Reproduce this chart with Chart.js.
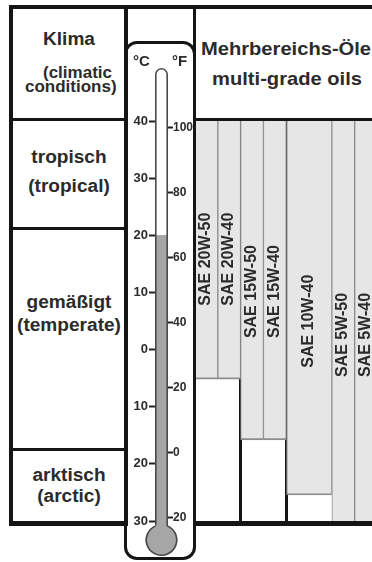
<!DOCTYPE html>
<html><head><meta charset="utf-8">
<script src="https://cdn.jsdelivr.net/npm/chart.js@4.4.1/dist/chart.umd.min.js"></script>
<style>
html,body{margin:0;padding:0;background:#fff;}
#page{position:relative;width:372px;height:562px;overflow:hidden;font-family:"Liberation Sans",Arial,sans-serif;font-weight:bold;color:#2b2b2b;}
.ln{position:absolute;background:#151515;z-index:3;}
.t{position:absolute;white-space:nowrap;z-index:4;}
.c{transform:translateX(-50%) scaleX(1.06);}
.f19{font-size:19px;line-height:19px;}
.f18{font-size:18px;line-height:18px;}
.f17{font-size:17px;line-height:17px;}
.f15{font-size:15px;line-height:15px;}
canvas{position:absolute;z-index:1;}
#frame{position:absolute;left:124px;top:41px;width:72px;height:519px;box-sizing:border-box;border:3px solid #151515;border-radius:13px;z-index:2;}
</style>
</head><body>
<div id="page">
  <canvas id="oils" width="177" height="400" style="left:195px;top:121px;width:177px;height:400px"></canvas>
  <canvas id="thermo" width="65" height="519" style="left:128px;top:42px;width:65px;height:519px"></canvas>
  <div id="frame"></div>

  <div class="ln" style="left:9px;top:5px;width:363px;height:4px"></div>
  <div class="ln" style="left:9px;top:5px;width:4px;height:521px"></div>
  <div class="ln" style="left:124px;top:5px;width:4px;height:521px"></div>
  <div class="ln" style="left:193px;top:5px;width:3px;height:521px"></div>
  <div class="ln" style="left:9px;top:521px;width:119px;height:5px"></div>
  <div class="ln" style="left:193px;top:521px;width:179px;height:5px"></div>
  <div class="ln" style="left:9px;top:118px;width:115px;height:3px"></div>
  <div class="ln" style="left:196px;top:118px;width:176px;height:3px"></div>
  <div class="ln" style="left:9px;top:227px;width:115px;height:3px"></div>
  <div class="ln" style="left:9px;top:448px;width:115px;height:3px"></div>

  <div class="t f18 c" style="left:69px;top:30px">Klima</div>
  <div class="t f17" style="left:43px;top:64px">(climatic</div>
  <div class="t f17" style="left:25px;top:78px">conditions)</div>
  <div class="t f19 c" style="left:286px;top:39px">Mehrbereichs-Öle</div>
  <div class="t f19 c" style="left:287px;top:69px">multi-grade oils</div>
  <div class="t f18 c" style="left:69px;top:148px">tropisch</div>
  <div class="t f18 c" style="left:69px;top:177px">(tropical)</div>
  <div class="t f18 c" style="left:69px;top:293px">gemäßigt</div>
  <div class="t f18 c" style="left:69px;top:316px">(temperate)</div>
  <div class="t f18 c" style="left:69px;top:466px">arktisch</div>
  <div class="t f18 c" style="left:69px;top:487px">(arctic)</div>
  <div class="t f15" style="left:133px;top:53px">°C</div>
  <div class="t f15" style="left:172px;top:53px">°F</div>
</div>
<script>
// ---- data ----
const oilGrades = ['SAE 20W-50','SAE 20W-40','SAE 15W-50','SAE 15W-40','SAE 10W-40','SAE 5W-50','SAE 5W-40'];
const lowTempC  = [-5.2, -5.2, -15.8, -15.8, -25.5, -30, -30];
const highTempC = [40, 40, 40, 40, 40, 40, 40];
const celsiusTicks = [40, 30, 20, 10, 0, -10, -20, -30];
const fahrenheitTicks = [100, 80, 60, 40, 20, 0, -20];
const mercuryTempC = 20;

// ---- layout / style ----
const colSpan = [1, 1, 1, 1, 2, 1, 1];
const groupEdges = [2, 4, 7];
const FONT = '"Liberation Sans", Arial, sans-serif';
const TEXT = '#2b2b2b';
const AXIS_MIN_C = -30, AXIS_MAX_C = 40;

let acc = 0;
const centers = colSpan.map(s => { const c = acc + s / 2; acc += s; return c; });

const gradeLabels = {
  id: 'gradeLabels',
  afterDatasetsDraw(chart) {
    const ctx = chart.ctx, y = chart.scales.y;
    ctx.save();
    ctx.font = 'bold 16px ' + FONT;
    ctx.fillStyle = TEXT;
    ctx.textAlign = 'center';
    ctx.textBaseline = 'middle';
    chart.data.datasets.forEach((ds, i) => {
      const el = chart.getDatasetMeta(i).data[0];
      const top = y.getPixelForValue(highTempC[i]);
      const bottom = y.getPixelForValue(lowTempC[i]);
      const cy = top + 0.535 * (bottom - top);
      ctx.save();
      ctx.translate(el.x - 0.5, cy);
      ctx.rotate(-Math.PI / 2);
      ctx.fillText(ds.label, 0, 0);
      ctx.restore();
    });
    ctx.restore();
  }
};

new Chart(document.getElementById('oils'), {
  type: 'bar',
  data: {
    datasets: oilGrades.map((g, i) => ({
      label: g,
      data: [{ x: centers[i], y: [lowTempC[i], highTempC[i]] }],
      backgroundColor: '#e6e6e6',
      borderColor: '#8c8c8c',
      borderWidth: { left: 1, right: 1, bottom: lowTempC[i] > AXIS_MIN_C ? 2 : 0, top: 0 },
      borderSkipped: false,
      grouped: false,
      barPercentage: colSpan[i],
      categoryPercentage: 1
    }))
  },
  options: {
    responsive: false,
    animation: false,
    layout: { padding: 0 },
    plugins: { legend: { display: false }, tooltip: { enabled: false } },
    scales: {
      x: {
        type: 'linear', min: 0, max: 7.76, offset: false,
        ticks: { display: false, stepSize: 1, includeBounds: false },
        grid: {
          offset: false, drawTicks: false, lineWidth: 3,
          color: c => (c.tick && groupEdges.includes(c.tick.value)) ? '#151515' : 'rgba(0,0,0,0)'
        },
        border: { display: false },
        z: 1
      },
      y: { min: AXIS_MIN_C, max: AXIS_MAX_C, display: false }
    }
  },
  plugins: [gradeLabels]
});

const thermoShape = {
  id: 'thermoShape',
  beforeDatasetsDraw(chart) {
    const ctx = chart.ctx, a = chart.chartArea;
    const cx = (a.left + a.right) / 2, w = (a.right - a.left) / 2;
    const topY = a.top - 53;
    ctx.save();
    ctx.fillStyle = '#ffffff';
    ctx.beginPath();
    ctx.moveTo(cx - w, a.bottom + 10);
    ctx.lineTo(cx - w, topY + w);
    ctx.arc(cx, topY + w, w, Math.PI, 0);
    ctx.lineTo(cx + w, a.bottom + 10);
    ctx.closePath();
    ctx.fill();
    ctx.restore();
  },
  afterDatasetsDraw(chart) {
    const ctx = chart.ctx, a = chart.chartArea;
    const cx = (a.left + a.right) / 2, w = (a.right - a.left) / 2;
    const topY = a.top - 53;
    const r = 16, cy = a.bottom + 19;
    const h = Math.sqrt(r * r - w * w);
    ctx.save();
    ctx.fillStyle = '#a6a6a6';
    ctx.fillRect(cx - w, a.bottom - 1, 2 * w, cy - a.bottom + 1);
    ctx.beginPath();
    ctx.arc(cx, cy, r, 0, Math.PI * 2);
    ctx.fill();
    ctx.strokeStyle = '#4a4a4a';
    ctx.lineWidth = 1.6;
    ctx.beginPath();
    ctx.moveTo(cx - w + 0.8, cy - h);
    ctx.lineTo(cx - w + 0.8, topY + w);
    ctx.arc(cx, topY + w, w - 0.8, Math.PI, 0);
    ctx.lineTo(cx + w - 0.8, cy - h);
    ctx.arc(cx, cy, r - 0.8, Math.atan2(-h, w), Math.atan2(-h, -w), false);
    ctx.stroke();
    ctx.restore();
  }
};

new Chart(document.getElementById('thermo'), {
  type: 'bar',
  data: {
    labels: ['°C'],
    datasets: [{ data: [[AXIS_MIN_C, mercuryTempC]], backgroundColor: '#a6a6a6', borderWidth: 0, barPercentage: 1, categoryPercentage: 1 }]
  },
  options: {
    responsive: false,
    animation: false,
    layout: { padding: { top: 79, bottom: 40, left: 0, right: 0 } },
    plugins: { legend: { display: false }, tooltip: { enabled: false } },
    scales: {
      x: { display: false },
      y: {
        position: 'left', min: AXIS_MIN_C, max: AXIS_MAX_C,
        afterBuildTicks: s => { s.ticks = celsiusTicks.map(v => ({ value: v })); },
        afterFit: s => { s.width = 27; },
        ticks: { callback: v => String(Math.abs(v)), color: TEXT, padding: 1, font: { family: FONT, size: 13, weight: 'bold' } },
        grid: { drawOnChartArea: false, tickLength: 6, tickWidth: 2, tickColor: '#222' },
        border: { display: false }
      },
      yF: {
        position: 'right', min: -21, max: 102,
        afterBuildTicks: s => { s.ticks = fahrenheitTicks.map(v => ({ value: v })); },
        afterFit: s => { s.width = 25; },
        ticks: { callback: v => String(Math.abs(v)), color: TEXT, padding: 0, font: { family: FONT, size: 12, weight: 'bold' } },
        grid: { drawOnChartArea: false, tickLength: 5, tickWidth: 2, tickColor: '#222' },
        border: { display: false }
      }
    }
  },
  plugins: [thermoShape]
});
</script>
</body></html>
